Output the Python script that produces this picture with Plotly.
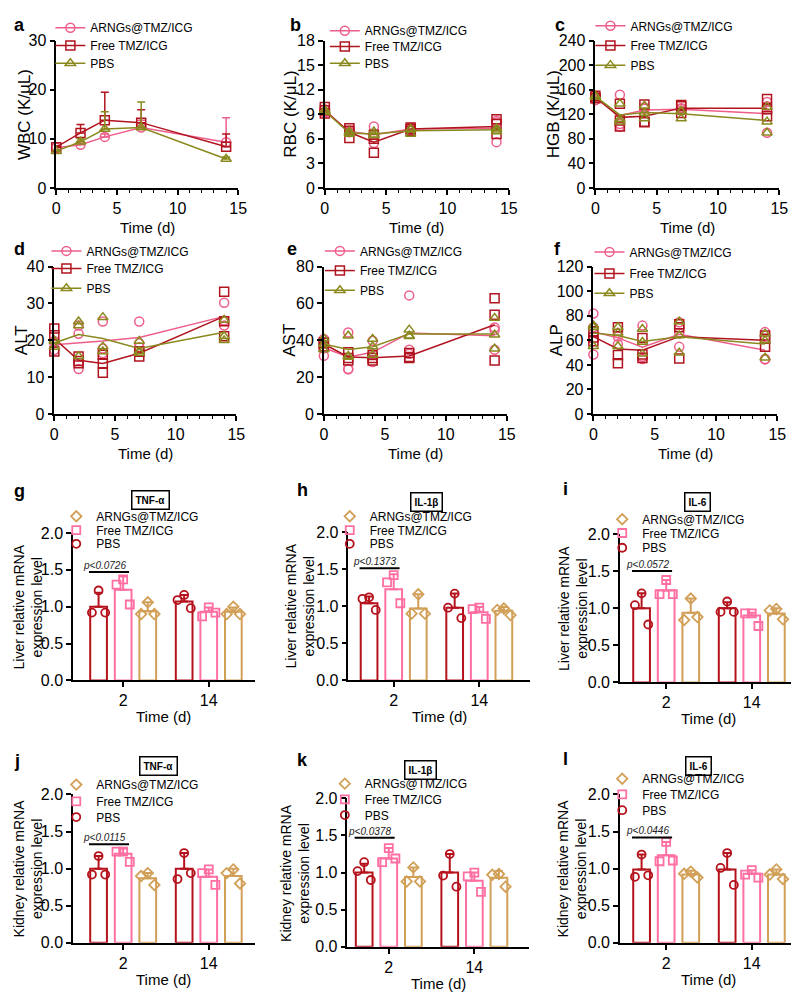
import plotly.graph_objects as go

# ---------------- data ----------------
days = [0, 2, 4, 7, 14]
group_names = ["ARNGs@TMZ/ICG", "Free TMZ/ICG", "PBS"]

# a: WBC (means + upper SD)
wbc_arngs = [8.2, 8.8, 10.4, 12.3, 9.3]
wbc_free = [8.3, 11.2, 13.8, 13.3, 8.4]
wbc_pbs = [7.5, 9.4, 12.0, 12.3, 5.9]
wbc_arngs_sd = [0.3, 0.3, 0.6, 1.5, 5.0]
wbc_free_sd = [0.3, 1.7, 5.7, 2.6, 2.6]
wbc_pbs_sd = [0.3, 0.6, 3.5, 5.2, 0.4]

# b: RBC
rbc_arngs_mean = [9.4, 6.9, 6.5, 7.2, 7.3]
rbc_free_mean = [9.5, 6.8, 5.6, 7.2, 7.5]
rbc_pbs_mean = [9.4, 6.7, 6.6, 7.0, 7.1]
rbc_arngs_pts = [[9.6, 9.3, 9.2], [6.9, 7.0, 6.8], [7.5, 5.5, 6.5], [7.4, 7.1, 7.0], [5.6, 8.2, 8.0]]
rbc_free_pts = [[9.9, 9.1, 9.5], [7.3, 6.1, 7.0], [4.3, 6.5, 6.0], [7.4, 7.2, 7.0], [8.4, 7.8, 6.6]]
rbc_pbs_pts = [[9.5, 9.3, 9.4], [6.9, 6.6, 6.7], [6.9, 6.5, 6.4], [7.2, 6.6, 7.1], [6.9, 7.3, 7.1]]

# c: HGB
hgb_arngs_mean = [146, 118, 127, 128, 121]
hgb_free_mean = [148, 115, 117, 130, 130]
hgb_pbs_mean = [149, 119, 123, 121, 110]
hgb_arngs_pts = [[143, 147, 149], [152, 104, 100], [129, 131, 122], [129, 126, 130], [90, 133, 140]]
hgb_free_pts = [[150, 147, 146], [137, 110, 100], [136, 107, 108], [133, 122, 135], [145, 117, 128]]
hgb_pbs_pts = [[150, 148, 149], [137, 112, 108], [134, 122, 113], [113, 125, 125], [108, 90, 132]]

# d: ALT
alt_arngs_mean = [18.8, 19.3, 19.8, 20.8, 26.5]
alt_free_mean = [20.5, 14.6, 13.7, 16.5, 26.5]
alt_pbs_mean = [19.3, 21.6, 20.5, 17.8, 22.2]
alt_arngs_pts = [[19.2, 17.4, 19.8], [21.8, 24.0, 12.2], [25.1, 16.5, 17.8], [25.1, 19.2, 18.1], [30.2, 24.0, 25.4]]
alt_free_pts = [[23.2, 21.4, 17.0], [15.6, 13.8, 14.4], [13.8, 11.2, 16.1], [15.6, 16.9, 17.0], [33.2, 21.1, 25.2]]
alt_pbs_pts = [[19.8, 18.2, 19.9], [25.1, 24.0, 15.7], [26.3, 18.3, 17.0], [19.8, 17.0, 16.6], [20.0, 21.1, 25.5]]

# e: AST
ast_arngs_mean = [36, 31, 33.5, 44, 42.5]
ast_free_mean = [38, 31, 30.5, 31.5, 48.5]
ast_pbs_mean = [38, 35, 36.5, 43.5, 43.5]
ast_arngs_pts = [[40.7, 31.6, 35.7], [44.3, 24.4, 24.3], [39.8, 32.5, 28.2], [64.4, 34.9, 32.7], [47.0, 34.9, 45.6]]
ast_free_pts = [[38.5, 36.7, 38.8], [33.5, 30.4, 29.1], [30.4, 29.0, 32.1], [33.1, 30.4, 31.0], [62.9, 53.9, 29.1]]
ast_pbs_pts = [[38.0, 35.0, 41.0], [42.5, 31.0, 31.5], [40.7, 36.7, 32.1], [45.8, 42.2, 42.5], [52.1, 43.0, 35.4]]

# f: ALP
alp_arngs_mean = [67, 62, 54.5, 65, 52]
alp_free_mean = [63, 53, 52, 63, 60]
alp_pbs_mean = [66, 64, 59, 63, 57]
alp_arngs_pts = [[81.9, 48.5, 70.6], [65.9, 63.2, 56.9], [72.0, 44.8, 46.7], [74.7, 54.7, 65.6], [66.7, 44.8, 44.5]]
alp_free_pts = [[67.5, 59.2, 62.3], [70.7, 48.0, 41.3], [61.9, 48.5, 45.6], [45.3, 70.7, 73.0], [61.3, 54.7, 64.0]]
alp_pbs_pts = [[70.7, 55.2, 72.1], [70.7, 55.2, 66.1], [69.3, 58.7, 49.0], [75.2, 49.9, 63.9], [65.3, 45.9, 59.8]]

# g-l: relative mRNA expression, categories day 2 and day 14
bar_days = ["2", "14"]
bar_groups = ["PBS", "Free TMZ/ICG", "ARNGs@TMZ/ICG"]

g_pbs_mean, g_pbs_sd, g_pbs_pts = [1.00, 1.07], [0.19, 0.09], [[1.22, 0.92, 0.92], [1.16, 1.09, 0.98]]
g_free_mean, g_free_sd, g_free_pts = [1.23, 0.93], [0.18, 0.06], [[1.37, 1.30, 1.03], [0.99, 0.87, 0.92]]
g_arngs_mean, g_arngs_sd, g_arngs_pts = [0.94, 0.93], [0.12, 0.06], [[1.06, 0.90, 0.90], [1.00, 0.90, 0.90]]

h_pbs_mean, h_pbs_sd, h_pbs_pts = [1.04, 0.98], [0.09, 0.19], [[1.12, 1.10, 0.95], [1.17, 0.98, 0.84]]
h_free_mean, h_free_sd, h_free_pts = [1.23, 0.92], [0.20, 0.07], [[1.42, 1.32, 1.04], [0.98, 0.96, 0.83]]
h_arngs_mean, h_arngs_sd, h_arngs_pts = [0.97, 0.94], [0.19, 0.05], [[1.16, 0.90, 0.90], [0.97, 0.95, 0.88]]

i_pbs_mean, i_pbs_sd, i_pbs_pts = [1.00, 1.00], [0.20, 0.08], [[1.20, 1.04, 0.78], [1.09, 0.95, 0.95]]
i_free_mean, i_free_sd, i_free_pts = [1.24, 0.90], [0.14, 0.04], [[1.38, 1.19, 1.19], [0.93, 0.93, 0.76]]
i_arngs_mean, i_arngs_sd, i_arngs_pts = [0.94, 0.93], [0.19, 0.07], [[1.13, 0.84, 0.88], [0.99, 0.97, 0.85]]

j_pbs_mean, j_pbs_sd, j_pbs_pts = [1.00, 1.00], [0.17, 0.21], [[1.17, 0.92, 0.92], [1.21, 0.86, 0.94]]
j_free_mean, j_free_sd, j_free_pts = [1.20, 0.89], [0.07, 0.10], [[1.23, 1.23, 1.09], [0.99, 0.94, 0.78]]
j_arngs_mean, j_arngs_sd, j_arngs_pts = [0.87, 0.90], [0.07, 0.10], [[0.94, 0.90, 0.78], [0.99, 0.94, 0.80]]

k_pbs_mean, k_pbs_sd, k_pbs_pts = [1.00, 1.00], [0.12, 0.25], [[1.14, 1.02, 0.90], [1.25, 0.96, 0.81]]
k_free_mean, k_free_sd, k_free_pts = [1.19, 0.89], [0.14, 0.11], [[1.33, 1.14, 1.19], [1.00, 0.95, 0.74]]
k_arngs_mean, k_arngs_sd, k_arngs_pts = [0.94, 0.93], [0.13, 0.09], [[1.07, 0.88, 0.88], [0.98, 0.97, 0.81]]

l_pbs_mean, l_pbs_sd, l_pbs_pts = [0.99, 0.99], [0.20, 0.22], [[1.19, 0.89, 0.91], [1.21, 1.01, 0.78]]
l_free_mean, l_free_sd, l_free_pts = [1.18, 0.93], [0.18, 0.05], [[1.36, 1.10, 1.11], [0.98, 0.92, 0.88]]
l_arngs_mean, l_arngs_sd, l_arngs_pts = [0.92, 0.92], [0.05, 0.07], [[0.96, 0.93, 0.88], [0.99, 0.92, 0.86]]

p_labels = ["p<0.0726", "p<0.1373", "p<0.0572", "p<0.0115", "p<0.0378", "p<0.0446"]
p_levels = [1.47, 1.51, 1.50, 1.33, 1.47, 1.42]
cytokines = ["TNF-α", "IL-1β", "IL-6", "TNF-α", "IL-1β", "IL-6"]
organs = ["Liver", "Liver", "Liver", "Kidney", "Kidney", "Kidney"]

# ---------------- styling / layout ----------------
W, H = 799, 993
FONT = "Arial, 'Liberation Sans', Helvetica, sans-serif"
LINE_COLORS = ["#EE5E8A", "#B0141F", "#8A891E"]   # ARNGs, Free, PBS
LINE_SYMBOLS = ["circle-open", "square-open", "triangle-up-open"]
BAR_COLORS = {"PBS": "#B5121C", "Free TMZ/ICG": "#FF6FA3", "ARNGs@TMZ/ICG": "#D29F57"}
BAR_SYMBOLS = {"PBS": "circle-open", "Free TMZ/ICG": "square-open", "ARNGs@TMZ/ICG": "diamond-open"}
BAR_OFFSETS = {"PBS": -1.0, "Free TMZ/ICG": 0.0, "ARNGs@TMZ/ICG": 1.0}
GROUP_CENTERS = [0.0, 3.48]
BAR_WIDTH = 0.68
JITTER = [0.0, -0.27, 0.27]
PX_PER_UNIT = 25.0
LEG_TEXT_OFF = 40
TICK_SIZE = 16


def fx(p):
    return p / W


def fy(p):
    return 1 - p / H


fig = go.Figure()
layout = dict(width=W, height=H, margin=dict(l=0, r=0, t=0, b=0),
              paper_bgcolor="white", plot_bgcolor="white",
              font=dict(family=FONT, color="black"), showlegend=True,
              barmode="overlay")
annotations = []
shapes = []
legend_counter = [0]


def new_legend(x_text, y_center, size=12):
    legend_counter[0] += 1
    n = legend_counter[0]
    name = "legend" if n == 1 else f"legend{n}"
    layout[name] = dict(x=fx(x_text - LEG_TEXT_OFF), y=fy(y_center), xanchor="left",
                        yanchor="middle", bgcolor="rgba(0,0,0,0)", borderwidth=0,
                        font=dict(size=size, family=FONT, color="black"),
                        itemclick=False, itemdoubleclick=False)
    return name


base_axis = dict(showline=True, linecolor="black", linewidth=1.5, ticks="outside",
                 ticklen=5, tickwidth=1.5, tickcolor="black", showgrid=False,
                 zeroline=False, tickfont=dict(size=TICK_SIZE, family=FONT, color="black"))

# ---- line panels (a-f) ----
line_panels = [
    dict(letter="a", ylab="WBC (K/μL)", yr=[0, 30], dt=10,
         means=[wbc_arngs, wbc_free, wbc_pbs], sds=[wbc_arngs_sd, wbc_free_sd, wbc_pbs_sd], pts=None,
         dom=(45, 230, 25, 175), ytx=12, lx=80, ly=[25, 43, 61], let=(0, 9)),
    dict(letter="b", ylab="RBC (K/μL)", yr=[0, 18], dt=3,
         means=[rbc_arngs_mean, rbc_free_mean, rbc_pbs_mean], sds=None,
         pts=[rbc_arngs_pts, rbc_free_pts, rbc_pbs_pts],
         dom=(318, 505, 25, 175), ytx=283, lx=359, ly=[28, 44, 61], let=(281, 9)),
    dict(letter="c", ylab="HGB (K/μL)", yr=[0, 240], dt=40,
         means=[hgb_arngs_mean, hgb_free_mean, hgb_pbs_mean], sds=None,
         pts=[hgb_arngs_pts, hgb_free_pts, hgb_pbs_pts],
         dom=(593, 780, 25, 175), ytx=550, lx=629, ly=[23, 43, 63], let=(550, 9)),
    dict(letter="d", ylab="ALT", yr=[0, 40], dt=10,
         means=[alt_arngs_mean, alt_free_mean, alt_pbs_mean], sds=None,
         pts=[alt_arngs_pts, alt_free_pts, alt_pbs_pts],
         dom=(43, 228, 255, 405), ytx=10, lx=76, ly=[252, 270, 290], let=(0, 237)),
    dict(letter="e", ylab="AST", yr=[0, 80], dt=20,
         means=[ast_arngs_mean, ast_free_mean, ast_pbs_mean], sds=None,
         pts=[ast_arngs_pts, ast_free_pts, ast_pbs_pts],
         dom=(317, 503, 255, 405), ytx=282, lx=354, ly=[252, 272, 292], let=(278, 237)),
    dict(letter="f", ylab="ALP", yr=[0, 120], dt=20,
         means=[alp_arngs_mean, alp_free_mean, alp_pbs_mean], sds=None,
         pts=[alp_arngs_pts, alp_free_pts, alp_pbs_pts],
         dom=(591, 778, 255, 405), ytx=553, lx=628, ly=[253, 275, 295], let=(549, 237)),
]

# empirical corrections for where plotly places single-item legends
LINE_LEG_DX, LINE_LEG_DY = -1, -13
BAR_LEG_DX, BAR_LEG_DY = -5, -7

for idx, p in enumerate(line_panels):
    suf = "" if idx == 0 else str(idx + 1)
    xa, ya = "x" + suf, "y" + suf
    x0, x1, y0, y1 = p["dom"]
    layout["xaxis" + suf] = dict(base_axis, domain=[fx(x0), fx(x1)], anchor=ya, range=[0, 15],
                                 tickvals=[0, 5, 10, 15],
                                 minor=dict(dtick=1, tick0=0, ticks="outside", ticklen=3,
                                            tickwidth=1, tickcolor="black"))
    layout["yaxis" + suf] = dict(base_axis, domain=[fy(y1), fy(y0)], anchor=xa, range=p["yr"],
                                 dtick=p["dt"], tick0=0)
    for gi in range(3):
        col, sym = LINE_COLORS[gi], LINE_SYMBOLS[gi]
        leg = new_legend(p["lx"] + LINE_LEG_DX, p["ly"][gi] + LINE_LEG_DY)
        if p["sds"] is not None:
            fig.add_trace(go.Scatter(
                x=days, y=p["means"][gi], mode="lines+markers", name=group_names[gi],
                line=dict(color=col, width=1.5),
                marker=dict(symbol=sym, size=9, color=col, line=dict(color=col, width=1.5)),
                error_y=dict(type="data", array=p["sds"][gi], arrayminus=[0] * len(days),
                             symmetric=False, color=col, thickness=1.5, width=4),
                xaxis=xa, yaxis=ya, cliponaxis=False, legend=leg, showlegend=True))
        else:
            fig.add_trace(go.Scatter(
                x=days, y=p["means"][gi], mode="lines", line=dict(color=col, width=1.5),
                xaxis=xa, yaxis=ya, cliponaxis=False, showlegend=False, hoverinfo="skip"))
            xs, ys = [], []
            for di, vals in enumerate(p["pts"][gi]):
                for v in vals:
                    xs.append(days[di])
                    ys.append(v)
            fig.add_trace(go.Scatter(
                x=xs, y=ys, mode="markers",
                marker=dict(symbol=sym, size=9, color=col, line=dict(color=col, width=1.5)),
                xaxis=xa, yaxis=ya, cliponaxis=False, showlegend=False))
            fig.add_trace(go.Scatter(
                x=[None], y=[None], mode="lines+markers", name=group_names[gi],
                line=dict(color=col, width=1.5),
                marker=dict(symbol=sym, size=9, color=col, line=dict(color=col, width=1.5)),
                xaxis=xa, yaxis=ya, legend=leg, showlegend=True))
    # axis titles
    annotations.append(dict(x=fx(p["ytx"]), y=fy((y0 + y1) / 2), xref="paper", yref="paper",
                            text=p["ylab"], textangle=-90, showarrow=False,
                            font=dict(size=17, family=FONT, color="black"),
                            xanchor="center", yanchor="middle"))
    annotations.append(dict(x=fx((x0 + x1) / 2), y=fy(y1 + 40), xref="paper", yref="paper",
                            text="Time (d)", showarrow=False,
                            font=dict(size=15, family=FONT, color="black"),
                            xanchor="center", yanchor="middle"))
    annotations.append(dict(x=fx(p["let"][0]), y=fy(p["let"][1]), xref="paper", yref="paper",
                            text="<b>" + p["letter"] + "</b>", showarrow=False,
                            font=dict(size=18, family=FONT, color="black"),
                            xanchor="left", yanchor="middle"))

# ---- bar panels (g-l) ----
bar_data = [
    ([g_pbs_mean, g_free_mean, g_arngs_mean], [g_pbs_sd, g_free_sd, g_arngs_sd], [g_pbs_pts, g_free_pts, g_arngs_pts]),
    ([h_pbs_mean, h_free_mean, h_arngs_mean], [h_pbs_sd, h_free_sd, h_arngs_sd], [h_pbs_pts, h_free_pts, h_arngs_pts]),
    ([i_pbs_mean, i_free_mean, i_arngs_mean], [i_pbs_sd, i_free_sd, i_arngs_sd], [i_pbs_pts, i_free_pts, i_arngs_pts]),
    ([j_pbs_mean, j_free_mean, j_arngs_mean], [j_pbs_sd, j_free_sd, j_arngs_sd], [j_pbs_pts, j_free_pts, j_arngs_pts]),
    ([k_pbs_mean, k_free_mean, k_arngs_mean], [k_pbs_sd, k_free_sd, k_arngs_sd], [k_pbs_pts, k_free_pts, k_arngs_pts]),
    ([l_pbs_mean, l_free_mean, l_arngs_mean], [l_pbs_sd, l_free_sd, l_arngs_sd], [l_pbs_pts, l_free_pts, l_arngs_pts]),
]
bar_layout = [
    dict(letter="g", dom=(62, 247, 526, 676), off=51, ytx=16, lx=90, ly=[516, 530, 544], box=(141, 492), let=(0, 483)),
    dict(letter="h", dom=(342, 527, 525, 676), off=46, ytx=293, lx=368, ly=[516, 530, 544], box=(421, 494), let=(288, 482)),
    dict(letter="i", dom=(618, 799, 527, 678), off=47, ytx=570, lx=645, ly=[519, 533, 548], box=(697, 494), let=(558, 481)),
    dict(letter="j", dom=(62, 247, 792, 943), off=51, ytx=16, lx=90, ly=[789, 806, 822], box=(149, 763), let=(0, 758)),
    dict(letter="k", dom=(341, 526, 796, 947), off=42, ytx=287, lx=363, ly=[788, 804, 820], box=(415, 767), let=(288, 757)),
    dict(letter="l", dom=(618, 799, 792, 943), off=47, ytx=569, lx=645, ly=[783, 799, 815], box=(698, 763), let=(558, 756)),
]

for bi, (bl, (means, sds, pts)) in enumerate(zip(bar_layout, bar_data)):
    idx = 6 + bi
    suf = str(idx + 1)
    xa, ya = "x" + suf, "y" + suf
    x0, x1, y0, y1 = bl["dom"]
    left = -bl["off"] / PX_PER_UNIT
    right = left + (x1 - x0) / PX_PER_UNIT
    layout["xaxis" + suf] = dict(base_axis, domain=[fx(x0), fx(x1)], anchor=ya, range=[left, right],
                                 tickvals=GROUP_CENTERS, ticktext=bar_days)
    layout["yaxis" + suf] = dict(base_axis, domain=[fy(y1), fy(y0)], anchor=xa, range=[0, 2.0],
                                 dtick=0.5, tick0=0, tickformat=".1f")
    leg_names = {}
    for gname, lyv in zip(["ARNGs@TMZ/ICG", "Free TMZ/ICG", "PBS"], bl["ly"]):
        leg_names[gname] = new_legend(bl["lx"] + BAR_LEG_DX, lyv + BAR_LEG_DY)
    for gi, gname in enumerate(bar_groups):
        col = BAR_COLORS[gname]
        xpos = [c + BAR_OFFSETS[gname] for c in GROUP_CENTERS]
        fig.add_trace(go.Bar(
            x=xpos, y=means[gi], width=BAR_WIDTH,
            marker=dict(color="white", line=dict(color=col, width=2)),
            error_y=dict(type="data", array=sds[gi], arrayminus=[0, 0], symmetric=False,
                         color=col, thickness=2, width=4),
            xaxis=xa, yaxis=ya, showlegend=False))
        xs, ys = [], []
        for ci, vals in enumerate(pts[gi]):
            for k, v in enumerate(vals):
                xs.append(xpos[ci] + JITTER[k])
                ys.append(v)
        fig.add_trace(go.Scatter(
            x=xs, y=ys, mode="markers", name=gname,
            marker=dict(symbol=BAR_SYMBOLS[gname], size=8, color=col, line=dict(color=col, width=1.8)),
            xaxis=xa, yaxis=ya, cliponaxis=False, legend=leg_names[gname], showlegend=True))
    # significance line between PBS and Free at day 2
    lx0 = GROUP_CENTERS[0] + BAR_OFFSETS["PBS"] - BAR_WIDTH / 2 - 0.05
    lx1 = GROUP_CENTERS[0] + BAR_OFFSETS["Free TMZ/ICG"] + BAR_WIDTH / 2 - 0.1
    shapes.append(dict(type="line", xref=xa, yref=ya, x0=lx0, x1=lx1,
                       y0=p_levels[bi], y1=p_levels[bi], line=dict(color="black", width=2)))
    annotations.append(dict(x=(lx0 + lx1) / 2, y=p_levels[bi], xref=xa, yref=ya,
                            text="<i>" + p_labels[bi] + "</i>", showarrow=False,
                            xanchor="center", yanchor="bottom", xshift=-5, yshift=-1,
                            font=dict(size=10, family=FONT, color="#222")))
    # title box
    annotations.append(dict(x=fx(bl["box"][0]), y=fy(bl["box"][1]), xref="paper", yref="paper",
                            text="<b>" + cytokines[bi] + "</b>", showarrow=False,
                            xanchor="center", yanchor="middle", bordercolor="black",
                            borderwidth=1.5, borderpad=3,
                            font=dict(size=10, family=FONT, color="black")))
    annotations.append(dict(x=fx(bl["ytx"]), y=fy((y0 + y1) / 2), xref="paper", yref="paper",
                            text=organs[bi] + " relative mRNA<br>expression level", textangle=-90,
                            showarrow=False, font=dict(size=14, family=FONT, color="black"),
                            xanchor="center", yanchor="middle"))
    annotations.append(dict(x=fx((x0 + x1) / 2), y=fy(y1 + 37), xref="paper", yref="paper",
                            text="Time (d)", showarrow=False,
                            font=dict(size=15, family=FONT, color="black"),
                            xanchor="center", yanchor="middle"))
    annotations.append(dict(x=fx(bl["let"][0]), y=fy(bl["let"][1]), xref="paper", yref="paper",
                            text="<b>" + bl["letter"] + "</b>", showarrow=False,
                            font=dict(size=18, family=FONT, color="black"),
                            xanchor="left", yanchor="middle"))

layout["annotations"] = annotations
layout["shapes"] = shapes
fig.update_layout(**layout)
fig.write_html("out.html")
